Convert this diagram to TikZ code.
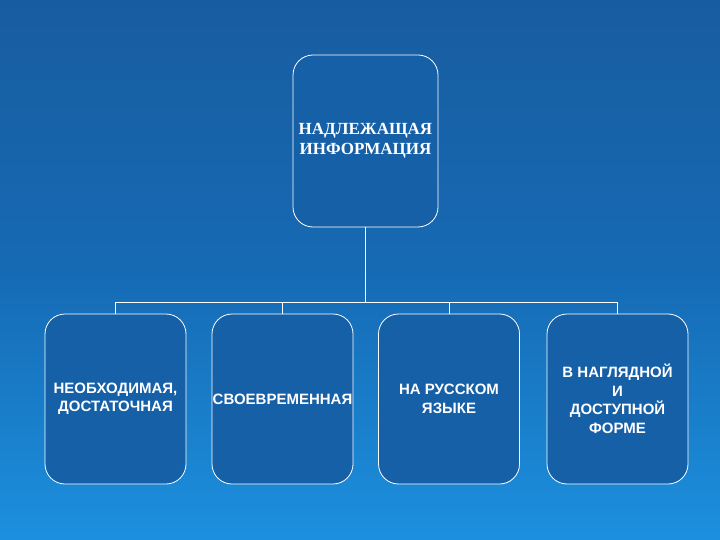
\documentclass[tikz,border=0pt]{standalone}
\usepackage{fontspec}
\setmainfont{Liberation Serif}
\setsansfont{Liberation Sans}
\definecolor{bgtop}{RGB}{24,92,160}
\definecolor{bgmid}{RGB}{22,106,180}
\definecolor{bgbot}{RGB}{28,144,222}
\definecolor{boxblue}{RGB}{22,96,168}
\begin{document}
\begin{tikzpicture}[x=1pt, y=-1pt,
    infobox/.style={draw=white, line width=0.8pt, rounded corners=20pt,
      fill=boxblue, text=white, align=center, inner sep=0pt},
    topbox/.style={infobox, minimum width=145pt, minimum height=172pt,
      font=\fontsize{17}{20}\selectfont\bfseries},
    kindbox/.style={infobox, minimum width=141pt, minimum height=170pt,
      font=\sffamily\fontsize{15}{18.5}\selectfont\bfseries},
    link/.style={draw=white, line width=1pt}]
    \shade[top color=bgtop, bottom color=bgbot, middle color=bgmid]
      (0,0) rectangle (720,540);
    \useasboundingbox (0,0) rectangle (720,540);

    \node[topbox] (info) at (365.5,141) {НАДЛЕЖАЩАЯ\\ИНФОРМАЦИЯ};

    \node[kindbox] (need) at (115.5,399) {НЕОБХОДИМАЯ,\\ДОСТАТОЧНАЯ};
    \node[kindbox] (time) at (282.5,399) {СВОЕВРЕМЕННАЯ};
    \node[kindbox] (lang) at (449,399) {НА РУССКОМ\\ЯЗЫКЕ};
    \node[kindbox] (form) at (617.5,399) {В НАГЛЯДНОЙ\\И\\ДОСТУПНОЙ\\ФОРМЕ};

    \coordinate (bus) at (365.5,302);
    \draw[link] (info.south) -- (bus);
    \foreach \k in {need,time,lang,form}
    \draw[link] (bus) -| (\k.north);

  \end{tikzpicture}
\end{document}
